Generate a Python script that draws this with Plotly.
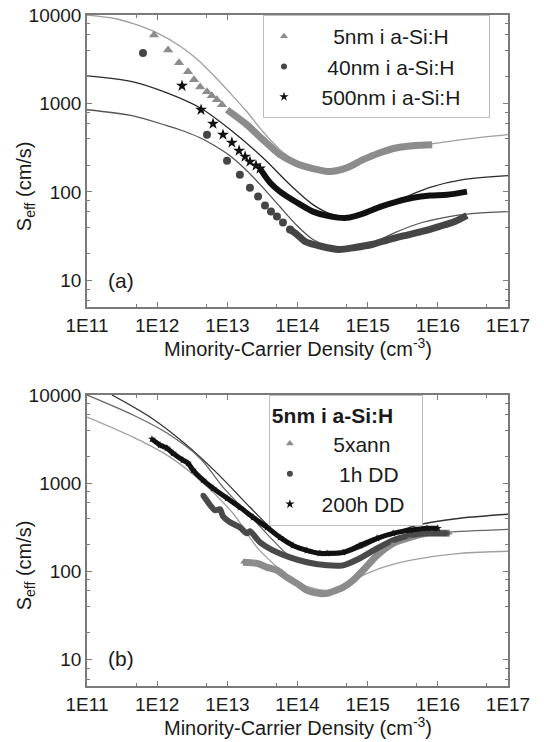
import plotly.graph_objects as go

# ---------------- Panel (a) data ----------------
# 5nm i a-Si:H (triangles): isolated points and dense band
n_5nm_pts = [9.0e11, 1.43e12, 2.05e12, 2.75e12, 3.35e12, 4.1e12, 5.13e12, 6.0e12, 7.1e12, 8.4e12]
S_5nm_pts = [5960, 4030, 2880, 2280, 1850, 1540, 1355, 1222, 1100, 970]
n_5nm_band = [9.9e12, 1.9e13, 3.22e13, 5.63e13, 9.8e13, 1.66e14, 2.9e14, 5.07e14, 8.6e14, 1.5e15, 2.62e15, 4.42e15, 8.3e15]
S_5nm_band = [849, 575, 390, 264, 209, 184, 170, 188, 232, 278, 316, 333, 342]

# 40nm i a-Si:H (circles)
n_40nm_pts = [6.28e11, 5.13e12, 9.9e12, 1.51e13, 2.1e13, 2.74e13, 3.44e13, 4.19e13, 5.1e13, 6.21e13, 7.82e13]
S_40nm_pts = [3730, 444, 226, 157, 112, 88.8, 70.3, 60.1, 52.8, 45.2, 37.7]
n_40nm_band = [7.82e13, 9.8e13, 1.28e14, 2.23e14, 3.9e14, 6.59e14, 1.15e15, 2.01e15, 3.4e15, 5.94e15, 1.04e16, 1.75e16, 2.6e16]
S_40nm_band = [37.7, 33.1, 27.6, 24.2, 22.4, 23.6, 25.5, 29, 32.2, 35.8, 40.7, 46.4, 54.2]

# 500nm i a-Si:H (stars)
n_500nm_pts = [2.26e12, 4.22e12, 6.25e12, 8.67e12, 1.16e13, 1.47e13, 1.79e13, 2.1e13, 2.56e13, 2.92e13]
S_500nm_pts = [1585, 849, 590, 444, 361, 293, 251, 220, 199, 184]
n_500nm_band = [2.92e13, 4.05e13, 5.63e13, 9.8e13, 1.66e14, 2.9e14, 5.07e14, 8.6e14, 1.5e15, 2.62e15, 4.42e15, 7.73e15, 1.35e16, 2.6e16]
S_500nm_band = [184, 128, 101, 76, 60, 53, 51, 57, 68, 78, 86, 91, 93, 101]

# Model curves, panel (a)
fit5_n = [1e11, 2.68e11, 5.69e11, 9.95e11, 2.11e12, 3.82e12, 6.25e12, 1.09e13, 1.9e13, 3.22e13, 5.63e13, 9.8e13, 1.66e14, 2.9e14, 5.07e14, 8.6e14, 1.5e15, 2.62e15, 4.42e15, 8.3e15, 2.87e16, 1e17]
fit5_S = [10000, 9010, 7520, 6270, 4470, 3110, 2110, 1320, 806, 480, 301, 220, 188, 184, 199, 232, 271, 308, 333, 351, 400, 444]
fit40_n = [1e11, 4.53e11, 1.38e12, 2.11e12, 4.08e12, 6.25e12, 1.09e13, 1.9e13, 3.22e13, 5.63e13, 9.8e13, 1.66e14, 2.9e14, 5.07e14, 8.6e14, 1.5e15, 2.45e15, 5.94e15, 1.75e16, 3.07e16, 1e17]
fit40_S = [850, 726, 561, 505, 410, 342, 257, 174, 112, 68, 41.8, 29, 24.2, 23, 24.9, 29, 34.8, 45.2, 54.2, 57, 60]
fit500_n = [1e11, 4.53e11, 1.38e12, 4.08e12, 1.2e13, 3.22e13, 7.82e13, 1.66e14, 2.9e14, 5.07e14, 8.6e14, 1.5e15, 2.62e15, 4.42e15, 7.73e15, 2.28e16, 1e17]
fit500_S = [2050, 1760, 1320, 895, 480, 244, 121, 72, 57, 53, 57, 67, 80, 95, 113, 138, 153]

# ---------------- Panel (b) data ----------------
n_5xann = [1.67e13, 2.65e13, 3.67e13, 5.1e13, 7.08e13, 9.8e13, 1.36e14, 2.09e14, 2.63e14, 4.45e14, 6.18e14, 8.6e14, 1.36e15, 2.3e15, 4.0e15, 7.0e15, 1.49e16]
S_5xann = [127, 123, 111, 103, 85.5, 73.1, 60.8, 56.2, 56.2, 65.8, 79, 103, 152, 208, 243, 270, 270]
n_1h = [4.5e12, 5.3e12, 6.67e12, 7.86e12, 8.67e12, 1.09e13, 1.51e13, 1.9e13, 2.1e13, 2.92e13, 4.48e13, 7.82e13, 1.36e14, 2.63e14, 4.45e14, 7.77e14, 1.36e15, 2.3e15, 4.01e15, 7.0e15, 1.35e16]
S_1h = [731, 608, 493, 507, 422, 360, 316, 270, 285, 214, 173, 144, 127, 117, 117, 141, 182, 225, 256, 270, 270]
n_200h = [8.43e11, 1.1e12, 1.38e12, 1.68e12, 2.33e12, 2.75e12, 3.24e12, 4.5e12, 6.25e12, 9.9e12, 1.51e13, 2.32e13, 3.67e13, 5.63e13, 8.63e13, 1.36e14, 2.09e14, 2.63e14, 4.45e14, 7.77e14, 1.36e15, 2.3e15, 4.01e15, 7.0e15, 1.0e16]
S_200h = [3160, 2700, 2500, 2190, 1825, 1690, 1405, 1082, 877, 676, 533, 411, 316, 243, 197, 173, 160, 160, 164, 197, 237, 270, 292, 308, 308]

fitb_dark_n = [2.27e11, 7.9e11, 2.33e12, 7.13e12, 2.1e13, 4.48e13, 7.82e13, 1.51e14, 2.63e14, 4.45e14, 7.77e14, 1.36e15, 2.3e15, 5.05e15, 2.07e16, 1e17]
fitb_dark_S = [10000, 5620, 2925, 1300, 533, 292, 197, 164, 152, 156, 182, 225, 270, 333, 400, 444]
fitb_mid_n = [1e11, 4.53e11, 1.38e12, 4.08e12, 8.67e12, 1.51e13, 2.65e13, 4.48e13, 7.82e13, 1.51e14, 2.63e14, 4.45e14, 7.77e14, 1.36e15, 2.3e15, 4.0e15, 1.18e16, 1e17]
fitb_mid_S = [10000, 5930, 3700, 1920, 902, 562, 351, 225, 148, 120, 114, 120, 144, 182, 225, 256, 277, 300]
fitb_light_n = [1e11, 4.53e11, 1.38e12, 4.08e12, 1.2e13, 2.65e13, 4.48e13, 7.82e13, 1.51e14, 2.63e14, 4.45e14, 6.18e14, 1.5e15, 4.0e15, 2.07e16, 1e17]
fitb_light_S = [5620, 3330, 2080, 1080, 456, 187, 123, 83, 65.8, 60.8, 67.6, 79, 108, 133, 160, 169]

# ---------------- Axis ticks ----------------
x_tickvals = [1e11, 1e12, 1e13, 1e14, 1e15, 1e16, 1e17]
x_ticktext = ["1E11", "1E12", "1E13", "1E14", "1E15", "1E16", "1E17"]
x_minor = [5e11, 5e12, 5e13, 5e14, 5e15, 5e16]
y_tickvals = [10, 100, 1000, 10000]
y_ticktext = ["10", "100", "1000", "10000"]
y_minor = [m * 10 ** k for k in range(0, 4) for m in (2, 4, 6, 8)]

FONT = "Liberation Sans, Arial, sans-serif"
TXT = "#1a1a1a"
AX = "#7a7a7a"
NB = "\u00a0"

fig = go.Figure()


def fit_line(n, s, color, xa, ya):
    fig.add_trace(go.Scatter(x=n, y=s, mode="lines", xaxis=xa, yaxis=ya,
                             line=dict(color=color, width=1.3, shape="spline", smoothing=0.9),
                             showlegend=False, hoverinfo="skip"))


def band(n, s, color, width, xa, ya):
    fig.add_trace(go.Scatter(x=n, y=s, mode="lines", xaxis=xa, yaxis=ya,
                             line=dict(color=color, width=width, shape="spline", smoothing=0.7),
                             showlegend=False, hoverinfo="skip"))


def pts(n, s, color, symbol, size, xa, ya):
    fig.add_trace(go.Scatter(x=n, y=s, mode="markers", xaxis=xa, yaxis=ya, showlegend=False,
                             marker=dict(color=color, symbol=symbol, size=size, line=dict(width=0))))


def legend_entry(name, color, symbol, size, xa, ya, leg):
    fig.add_trace(go.Scatter(x=[None], y=[None], mode="markers", xaxis=xa, yaxis=ya, name=name,
                             marker=dict(color=color, symbol=symbol, size=size, line=dict(width=0)),
                             legend=leg, showlegend=True))


# panel (a)
fit_line(fit5_n, fit5_S, "#a0a0a0", "x", "y")
fit_line(fit40_n, fit40_S, "#555555", "x", "y")
fit_line(fit500_n, fit500_S, "#2a2a2a", "x", "y")
band(n_5nm_band, S_5nm_band, "#8c8c8c", 7, "x", "y")
band(n_40nm_band, S_40nm_band, "#454545", 7, "x", "y")
band(n_500nm_band, S_500nm_band, "#111111", 6, "x", "y")
pts(n_5nm_pts, S_5nm_pts, "#8c8c8c", "triangle-up", 9, "x", "y")
pts(n_40nm_pts, S_40nm_pts, "#454545", "circle", 8, "x", "y")
pts(n_500nm_pts, S_500nm_pts, "#111111", "star", 9, "x", "y")
legend_entry(NB * 5 + "5nm i a-Si:H" + NB * 4, "#8c8c8c", "triangle-up", 7, "x", "y", "legend")
legend_entry(NB * 4 + "40nm i a-Si:H" + NB * 4, "#454545", "circle", 6, "x", "y", "legend")
legend_entry(NB * 3 + "500nm i a-Si:H" + NB * 4, "#111111", "star", 7, "x", "y", "legend")

# panel (b)
fit_line(fitb_dark_n, fitb_dark_S, "#333333", "x2", "y2")
fit_line(fitb_mid_n, fitb_mid_S, "#666666", "x2", "y2")
fit_line(fitb_light_n, fitb_light_S, "#a0a0a0", "x2", "y2")
band(n_5xann, S_5xann, "#8c8c8c", 7, "x2", "y2")
band(n_1h, S_1h, "#4a4a4a", 6, "x2", "y2")
band(n_200h, S_200h, "#111111", 5, "x2", "y2")
pts(n_5xann, S_5xann, "#8c8c8c", "triangle-up", 5, "x2", "y2")
pts(n_1h, S_1h, "#4a4a4a", "circle", 5, "x2", "y2")
pts(n_200h, S_200h, "#111111", "star", 6, "x2", "y2")
legend_entry(NB * 4 + "5xann", "#8c8c8c", "triangle-up", 7, "x2", "y2", "legend2")
legend_entry(NB * 5 + "1h DD", "#4a4a4a", "circle", 6, "x2", "y2", "legend2")
legend_entry(NB * 2 + "200h DD" + NB * 2, "#111111", "star", 7, "x2", "y2", "legend2")

xcommon = dict(type="log", range=[11, 17], tickmode="array", tickvals=x_tickvals, ticktext=x_ticktext,
               showline=True, linecolor=AX, linewidth=1.5, mirror="ticks", ticks="inside",
               ticklen=5, tickwidth=1.2, tickcolor=AX, showgrid=False, zeroline=False, automargin=False,
               tickfont=dict(family=FONT, size=19, color=TXT),
               minor=dict(tickmode="array", tickvals=x_minor, ticks="inside", ticklen=3,
                          tickcolor=AX, tickwidth=1, showgrid=False))
ycommon = dict(type="log", range=[0.70, 4], tickmode="array", tickvals=y_tickvals, ticktext=y_ticktext,
               showline=True, linecolor=AX, linewidth=1.5, mirror="ticks", ticks="inside",
               ticklen=5, tickwidth=1.2, tickcolor=AX, showgrid=False, zeroline=False, automargin=False,
               tickfont=dict(family=FONT, size=19, color=TXT),
               minor=dict(tickmode="array", tickvals=y_minor, ticks="inside", ticklen=3,
                          tickcolor=AX, tickwidth=1, showgrid=False))

legcommon = dict(xanchor="left", yanchor="top", bgcolor="white", bordercolor="#bdbdbd", borderwidth=1,
                 font=dict(family=FONT, size=21, color=TXT), tracegroupgap=0, itemsizing="trace")

ann = []
xt = "Minority-Carrier Density (cm<sup>-3</sup>)"
yt = "S<sub>eff</sub> (cm/s)"
ann.append(dict(text=xt, x=0.5, y=0.504, xref="paper", yref="paper", showarrow=False,
                font=dict(family=FONT, size=20, color=TXT), xanchor="center", yanchor="middle"))
ann.append(dict(text=xt, x=0.5, y=-0.061, xref="paper", yref="paper", showarrow=False,
                font=dict(family=FONT, size=20, color=TXT), xanchor="center", yanchor="middle"))
ann.append(dict(text=yt, x=-0.147, y=0.745, xref="paper", yref="paper", showarrow=False, textangle=-90,
                font=dict(family=FONT, size=20, color=TXT), xanchor="center", yanchor="middle"))
ann.append(dict(text=yt, x=-0.147, y=0.180, xref="paper", yref="paper", showarrow=False, textangle=-90,
                font=dict(family=FONT, size=20, color=TXT), xanchor="center", yanchor="middle"))
ann.append(dict(text="(a)", x=0.081, y=0.6036, xref="paper", yref="paper", showarrow=False,
                font=dict(family=FONT, size=21, color=TXT), xanchor="center", yanchor="middle"))
ann.append(dict(text="(b)", x=0.081, y=0.0417, xref="paper", yref="paper", showarrow=False,
                font=dict(family=FONT, size=21, color=TXT), xanchor="center", yanchor="middle"))

fig.update_layout(
    width=544, height=742,
    margin=dict(l=87, r=36, t=15, b=56, autoexpand=False),
    paper_bgcolor="white", plot_bgcolor="white",
    font=dict(family=FONT, color=TXT),
    xaxis=dict(domain=[0, 1], anchor="y", **xcommon),
    yaxis=dict(domain=[0.5648, 1], anchor="x", **ycommon),
    xaxis2=dict(domain=[0, 1], anchor="y2", **xcommon),
    yaxis2=dict(domain=[0, 0.4337], anchor="x2", **ycommon),
    legend=dict(x=0.418, y=1.0, **legcommon),
    legend2=dict(x=0.432, y=0.4337, title=dict(text="<b>5nm i a-Si:H</b>", side="top",
                                               font=dict(family=FONT, size=21, color=TXT)), **legcommon),
    annotations=ann,
    showlegend=True,
)

fig.write_html("out.html")
